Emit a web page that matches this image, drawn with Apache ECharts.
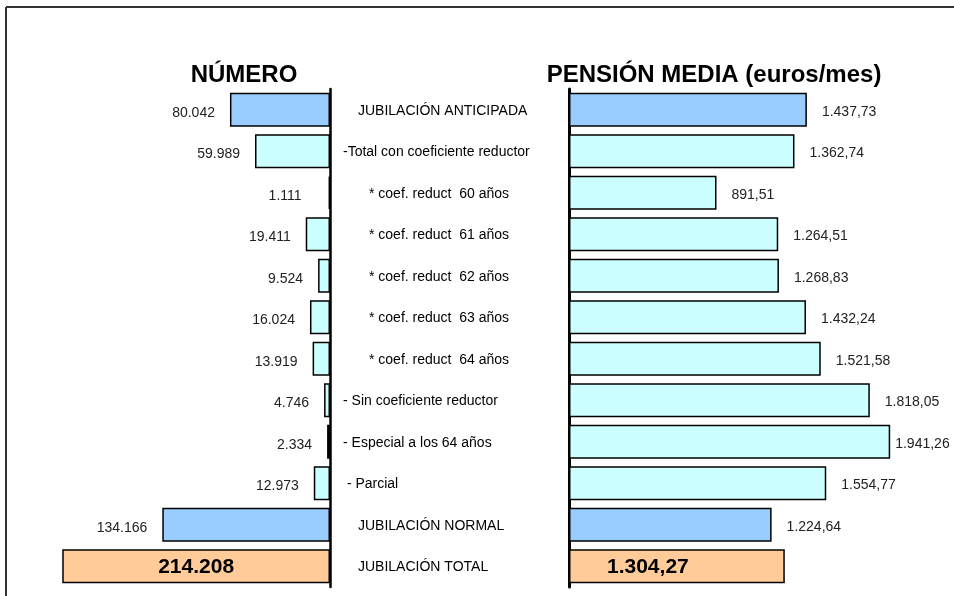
<!DOCTYPE html>
<html>
<head>
<meta charset="utf-8">
<title>Jubilación</title>
<script src="https://cdn.jsdelivr.net/npm/echarts@6/dist/echarts.min.js"></script>
<style>
  html, body { margin: 0; padding: 0; background: #fff; }
  #chart { width: 954px; height: 596px; }
</style>
</head>
<body>
<div id="chart"></div>
<script>
// datos
const categorias = [
  'JUBILACIÓN ANTICIPADA',
  '-Total con coeficiente reductor',
  '* coef. reduct  60 años',
  '* coef. reduct  61 años',
  '* coef. reduct  62 años',
  '* coef. reduct  63 años',
  '* coef. reduct  64 años',
  '- Sin coeficiente reductor',
  '- Especial a los 64 años',
  ' - Parcial',
  'JUBILACIÓN NORMAL',
  'JUBILACIÓN TOTAL'
]
const numero = [80042, 59989, 1111, 19411, 9524, 16024, 13919, 4746, 2334, 12973, 134166, 214208]
const pensionMedia = [1437.73, 1362.74, 891.51, 1264.51, 1268.83, 1432.24, 1521.58, 1818.05, 1941.26, 1554.77, 1224.64, 1304.27]

const FONT = "'Liberation Sans', Arial, sans-serif"

// formato español
const fmtNumero = v => String(v).replace(/\B(?=(\d{3})+(?!\d))/g, '.')
const fmtEuros = v => {
  const [ent, dec] = v.toFixed(2).split('.')
  return ent.replace(/\B(?=(\d{3})+(?!\d))/g, '.') + ',' + dec
}

const esTotal = i => categorias[i].trim() === 'JUBILACIÓN TOTAL'
const esPrincipal = i => categorias[i].trim().startsWith('JUBILACIÓN')
const colorFila = i => esTotal(i) ? '#FFCC99' : (esPrincipal(i) ? '#99CCFF' : '#CCFFFF')

const etiquetaTotal = { fontSize: 21, fontWeight: 'bold', color: '#000', offset: [0, 1] }

let chart = echarts.init(document.getElementById('chart'))

let option = {
  animation: false,
  backgroundColor: '#fff',
  textStyle: { fontFamily: FONT },
  graphic: [
    { type: 'line', shape: { x1: 6, y1: 7, x2: 954, y2: 7 }, style: { stroke: '#333', lineWidth: 2 } },
    { type: 'line', shape: { x1: 6, y1: 7, x2: 6, y2: 596 }, style: { stroke: '#333', lineWidth: 2 } }
  ],
  title: [
    {
      text: 'NÚMERO', left: 239, top: 58, textAlign: 'center',
      textStyle: { fontSize: 24, fontWeight: 'bold', color: '#000', fontFamily: FONT }
    },
    {
      text: 'PENSIÓN MEDIA (euros/mes)', left: 709, top: 58, textAlign: 'center',
      textStyle: { fontSize: 24, fontWeight: 'bold', color: '#000', fontFamily: FONT }
    }
  ],
  grid: [
    { left: 10, width: 320, top: 89, height: 498 },
    { left: 569, width: 364, top: 89, height: 498 }
  ],
  xAxis: [
    { gridIndex: 0, type: 'value', min: 0, max: 256000, inverse: true, show: false },
    { gridIndex: 1, type: 'value', min: 0, max: 2200, show: false }
  ],
  yAxis: [
    {
      gridIndex: 0, type: 'category', data: categorias, inverse: true, position: 'right',
      axisLine: { lineStyle: { color: '#000', width: 2.5 } },
      axisTick: { show: false },
      axisLabel: { show: false }
    },
    {
      gridIndex: 1, type: 'category', data: categorias, inverse: true, position: 'left',
      axisLine: { lineStyle: { color: '#000', width: 3 } },
      axisTick: { show: false },
      axisLabel: {
        align: 'left',
        margin: 226,
        fontSize: 14,
        color: '#000',
        fontFamily: FONT,
        formatter: v => {
          if (v.startsWith('JUBILACIÓN')) return '{h|' + v + '}'
          if (v.startsWith('*')) return '{c|' + v + '}'
          return '{d|' + v + '}'
        },
        rich: {
          h: { fontSize: 14, fontFamily: FONT, color: '#000', padding: [2, 0, 0, 15] },
          c: { fontSize: 14, fontFamily: FONT, color: '#000', padding: [2, 0, 0, 26] },
          d: { fontSize: 14, fontFamily: FONT, color: '#000', padding: [2, 0, 0, 0] }
        }
      }
    }
  ],
  series: [
    {
      name: 'Número',
      type: 'bar',
      xAxisIndex: 0,
      yAxisIndex: 0,
      barWidth: 34,
      itemStyle: { borderColor: '#000', borderWidth: 1.5 },
      label: {
        show: true, position: 'left', distance: 15, offset: [0, 3],
        fontSize: 14, color: '#222', fontFamily: FONT,
        formatter: p => fmtNumero(p.value)
      },
      data: numero.map((v, i) => {
        let item = { value: v, itemStyle: { color: colorFila(i) } }
        if (esTotal(i)) item.label = Object.assign({ position: 'inside' }, etiquetaTotal)
        else if (v < 2000) item.label = { distance: 27 }
        return item
      })
    },
    {
      name: 'Pensión media',
      type: 'bar',
      xAxisIndex: 1,
      yAxisIndex: 1,
      barWidth: 34,
      itemStyle: { borderColor: '#000', borderWidth: 1.5 },
      label: {
        show: true, position: 'right', distance: 15, offset: [0, 2],
        fontSize: 14, color: '#222', fontFamily: FONT,
        formatter: p => fmtEuros(p.value)
      },
      data: pensionMedia.map((v, i) => {
        let item = { value: v, itemStyle: { color: colorFila(i) } }
        if (esTotal(i)) item.label = Object.assign({ position: 'insideLeft', distance: 38 }, etiquetaTotal)
        else if (v === Math.max(...pensionMedia)) item.label = { distance: 5 }
        return item
      })
    }
  ]
}

chart.setOption(option)
</script>
</body>
</html>
